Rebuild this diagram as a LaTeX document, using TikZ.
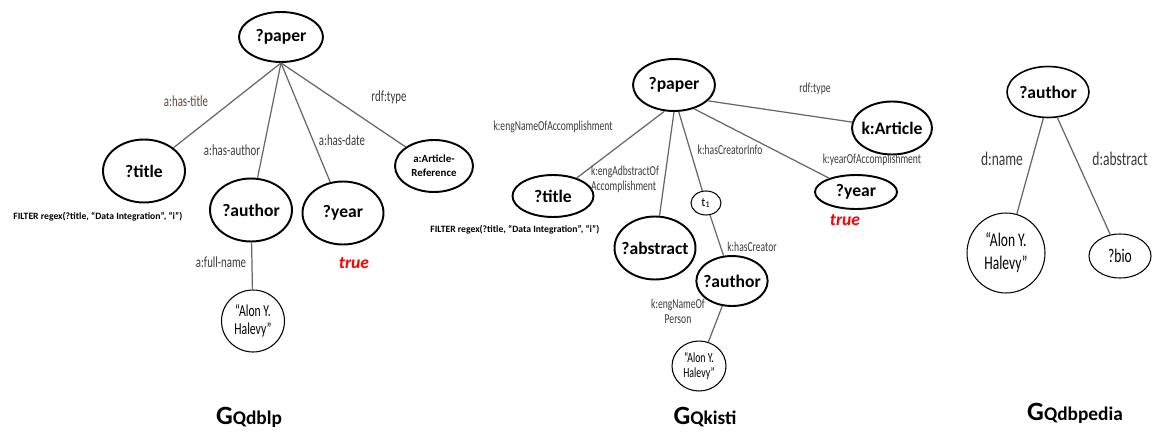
\documentclass[tikz,border=0pt]{standalone}
\usepackage{fontspec}
\setmainfont{Carlito}
\newfontfamily\condfont[FakeStretch=0.7]{Carlito}
\usetikzlibrary{shapes.geometric}
\definecolor{relgray}{HTML}{3A3A3A}
\definecolor{relbrown}{HTML}{5B4636}
\definecolor{edgegray}{HTML}{666666}

\begin{document}
\begin{tikzpicture}[x=0.02cm,y=-0.02cm,
		var/.style={ellipse,draw,line width=1.1pt,inner sep=-2pt,align=center,font=\bfseries\fontsize{10}{11}\selectfont},
		lit/.style={ellipse,draw,line width=0.6pt,inner sep=0pt,align=center,font=\condfont\fontsize{9.5}{10.5}\selectfont},
		edge/.style={draw=edgegray,line width=0.7pt},
		rel/.style={font=\condfont\fontsize{8.8}{9}\selectfont,text=relgray,inner sep=1pt},
		krel/.style={rel,font=\condfont\fontsize{7.8}{8.6}\selectfont},
		filter/.style={font=\bfseries\fontsize{5.5}{6}\selectfont,anchor=west,inner sep=0pt},
		tval/.style={font=\bfseries\itshape\fontsize{10}{11}\selectfont,text=red},
		gname/.style={font=\bfseries}
		]
		\useasboundingbox (0,0) rectangle (1167,436);
		\node[var,minimum width=1.68cm,minimum height=1cm] (dpaper) at (281,37) {?paper};
		\node[var,minimum width=1.64cm,minimum height=1.26cm] (dtitle) at (144,171) {?title};
		\node[var,minimum width=1.64cm,minimum height=1.26cm] (dauthor) at (251,210) {?author};
		\node[var,minimum width=1.62cm,minimum height=1.26cm] (dyear) at (343,213) {?year};
		\node[var,inner sep=0pt,minimum width=1.56cm,minimum height=1.04cm,font=\bfseries\fontsize{6.2}{8}\selectfont] (dtype) at (434,166) {a:Article-\\Reference};
		\node[lit,minimum width=1.26cm,minimum height=1.24cm] (dname) at (253,321) {“Alon Y.\\Halevy”};
		\draw[edge] (dpaper.south) -- (dtitle);
		\draw[edge] (dpaper.south) -- (dauthor);
		\draw[edge] (dpaper.south) -- (dyear);
		\draw[edge] (dpaper.south) -- (dtype);
		\draw[edge] (dauthor) -- (dname);
		\node[rel,text=relbrown] (lhastitle) at (186,101) {a:has-title};
		\node[rel] (lhasauthor) at (232,150) {a:has-author};
		\node[rel] (lhasdate) at (342,140) {a:has-date};
		\node[rel] (ldtype) at (389,97) {rdf:type};
		\node[rel] (lfullname) at (221,262) {a:full-name};
		\node[filter] (dfilter) at (13,217) {FILTER regex(?title, “Data Integration”, “i”)};
		\node[tval] (dtrue) at (354,263) {true};
		\node[gname] (gdblp) at (249,417) {{\fontsize{15}{16}\selectfont G}{\fontsize{11}{12}\selectfont Qdblp}};

		\node[var,minimum width=1.64cm,minimum height=1.04cm] (kpaper) at (674,85) {?paper};
		\node[var,minimum width=1.6cm,minimum height=1.06cm] (ktype) at (892,128) {k:Article};
		\node[var,minimum width=1.62cm,minimum height=0.84cm] (ktitle) at (553,196) {?title};
		\node[var,inner xsep=-4pt,minimum width=1.62cm,minimum height=1.26cm] (kabstract) at (655,248) {?abstract};
		\node[lit,minimum width=0.6cm,minimum height=0.48cm,font=\fontsize{7}{8}\selectfont] (kt) at (706,203) {t\textsubscript{1}};
		\node[var,minimum width=1.3cm,minimum height=1cm] (kauthor) at (732,281) {?author};
		\node[lit,minimum width=1.08cm,minimum height=1cm,font=\condfont\fontsize{8}{9}\selectfont] (kname) at (699,366) {“Alon Y.\\Halevy”};
		\node[var,minimum width=1.64cm,minimum height=0.68cm] (kyear) at (856,192) {?year};
		\draw[edge] (kpaper.-110) -- (ktitle);
		\draw[edge] (kpaper.south) -- (kabstract);
		\draw[edge] (kpaper.-80) -- (kt);
		\draw[edge] (kpaper.-50) -- (kyear);
		\draw[edge] (kpaper.-25) -- (ktype);
		\draw[edge] (kt) -- (kauthor);
		\draw[edge] (kauthor) -- (kname);
		\node[krel] (lengname) at (553,127) {k:engNameOfAccomplishment};
		\node[krel] (lktype) at (815,89) {rdf:type};
		\node[krel] (lcreatorinfo) at (730,150) {k:hasCreatorInfo};
		\node[krel] (lyearof) at (872,160) {k:yearOfAccomplishment};
		\node[krel,align=left] (labstractof) at (625,179) {k:engAdbstractOf\\Accomplishment};
		\node[krel] (lcreator) at (752,247) {k:hasCreator};
		\node[krel,align=center] (lnameperson) at (678,311) {k:engNameOf\\Person};
		\node[filter] (kfilter) at (430,230) {FILTER regex(?title, “Data Integration”, “i”)};
		\node[tval] (ktrue) at (845,220) {true};
		\node[gname] (gkisti) at (705,417) {{\fontsize{15}{16}\selectfont G}{\fontsize{11}{12}\selectfont Qkisti}};

		\node[var,line width=0.9pt,minimum width=1.64cm,minimum height=1.02cm] (pauthor) at (1048,92) {?author};
		\node[lit,minimum width=1.56cm,minimum height=1.6cm,font=\condfont\fontsize{11}{13}\selectfont] (pname) at (1006,253) {“Alon Y.\\Halevy”};
		\node[lit,minimum width=1.24cm,minimum height=0.88cm,font=\condfont\fontsize{11}{12}\selectfont] (pbio) at (1120,256) {?bio};
		\draw[edge] (pauthor.-100) -- (pname);
		\draw[edge] (pauthor.-70) -- (pbio);
		\node[rel,font=\condfont\fontsize{11}{12}\selectfont] (lname) at (1002,159) {d:name};
		\node[rel,font=\condfont\fontsize{11}{12}\selectfont] (labstract) at (1120,159) {d:abstract};
		\node[gname] (gdbpedia) at (1075,413) {{\fontsize{15}{16}\selectfont G}{\fontsize{11}{12}\selectfont Qdbpedia}};
\end{tikzpicture}
\end{document}
